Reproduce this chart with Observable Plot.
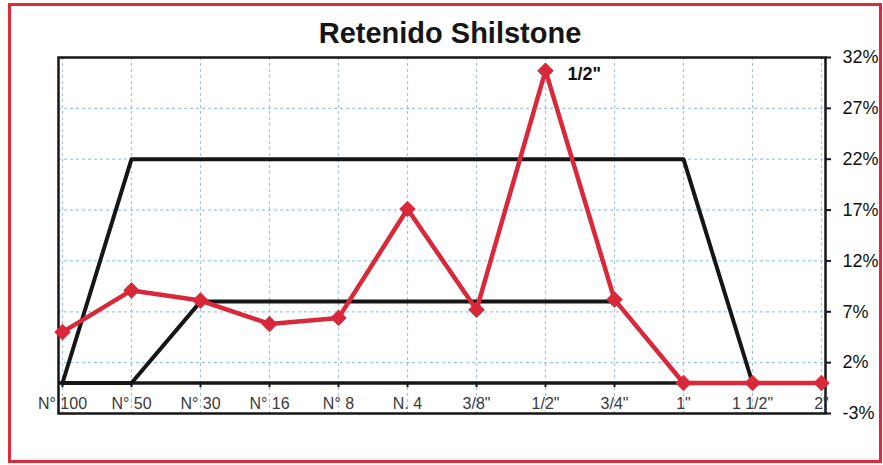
<!DOCTYPE html>
<html>
<head>
<meta charset="utf-8">
<script src="https://cdn.jsdelivr.net/npm/d3@7"></script>
<script src="https://cdn.jsdelivr.net/npm/@observablehq/plot@0.6"></script>
<style>
  html, body { margin: 0; padding: 0; background: #fff; }
  #wrap { position: relative; width: 883px; height: 465px; overflow: hidden; }
  #border { position: absolute; left: 8px; top: 3px; width: 874px; height: 460px; box-sizing: border-box; border: 3px solid #dc2b3b; pointer-events: none; }
  svg { font-family: "Liberation Sans", Arial, sans-serif; }
</style>
</head>
<body>
<div id="wrap"><div id="border"></div></div>
<script>
const title = "Retenido Shilstone";
const categories = ["N° 100", "N° 50", "N° 30", "N° 16", "N° 8", "N. 4", "3/8\"", "1/2\"", "3/4\"", "1\"", "1 1/2\"", "2\""];
const retained = [5.0, 9.1, 8.1, 5.8, 6.4, 17.1, 7.2, 30.7, 8.2, 0, 0, 0];
const upperLimit = [0, 22, 22, 22, 22, 22, 22, 22, 22, 22, 0, null];
const lowerLimit = [0, 0, 8, 8, 8, 8, 8, 8, 8, null, null, null];
const yTicks = [-3, 2, 7, 12, 17, 22, 27, 32];
const gridY = [2, 7, 12, 17, 22, 27];
const peakLabel = "1/2\"";

const rows = categories.map((c, i) => ({cat: c, ret: retained[i], up: upperLimit[i], lo: lowerLimit[i]}));
const red = "#d9283a";
const black = "#161616";

const chart = Plot.plot({
  width: 883,
  height: 465,
  marginLeft: 58,
  marginRight: 58,
  marginTop: 57,
  marginBottom: 52,
  style: {background: "transparent", overflow: "visible"},
  x: {type: "point", domain: categories, padding: 0, axis: null},
  y: {domain: [-3, 32], axis: null},
  marks: [
    Plot.ruleX(categories, {x: d => d, stroke: "#9fc5ea", strokeWidth: 1.2, strokeDasharray: "3,3"}),
    Plot.ruleY(gridY, {y: d => d, stroke: "#9fc5ea", strokeWidth: 1.2, strokeDasharray: "3,3"}),
    Plot.line(rows.filter(d => d.up != null), {x: "cat", y: "up", stroke: black, strokeWidth: 4}),
    Plot.line(rows.filter(d => d.lo != null), {x: "cat", y: "lo", stroke: black, strokeWidth: 4}),
    Plot.ruleY([0], {stroke: black, strokeWidth: 3.5}),
    Plot.ruleX(categories, {x: d => d, y1: 0, y2: -0.45, stroke: black, strokeWidth: 2}),
    Plot.frame({stroke: black, strokeWidth: 2.5}),
    Plot.axisY({anchor: "right", ticks: yTicks, tickFormat: d => d + "%", tickSize: 5, tickPadding: 12, fontSize: 18, fill: "#111", stroke: black, strokeWidth: 2}),
    Plot.text(categories, {x: d => d, y: 0, dy: 21, text: d => d, fontSize: 16, fill: "#3a3a3a", textAnchor: "middle"}),
    Plot.line(rows, {x: "cat", y: "ret", stroke: red, strokeWidth: 4.5}),
    Plot.dot(rows, {x: "cat", y: "ret", symbol: "diamond2", r: 7, fill: red, stroke: red, strokeWidth: 1}),
    Plot.text(rows.filter(d => d.cat === peakLabel), {x: "cat", y: "ret", text: d => d.cat, dx: 22, dy: 4, textAnchor: "start", fontSize: 18, fontWeight: "bold", fill: "#111"}),
    Plot.text([title], {frameAnchor: "top", dy: -24, dx: 8, fontSize: 29, fontWeight: "bold", fill: "#161616", lineAnchor: "middle"})
  ]
});
document.getElementById("wrap").prepend(chart);
</script>
</body>
</html>
